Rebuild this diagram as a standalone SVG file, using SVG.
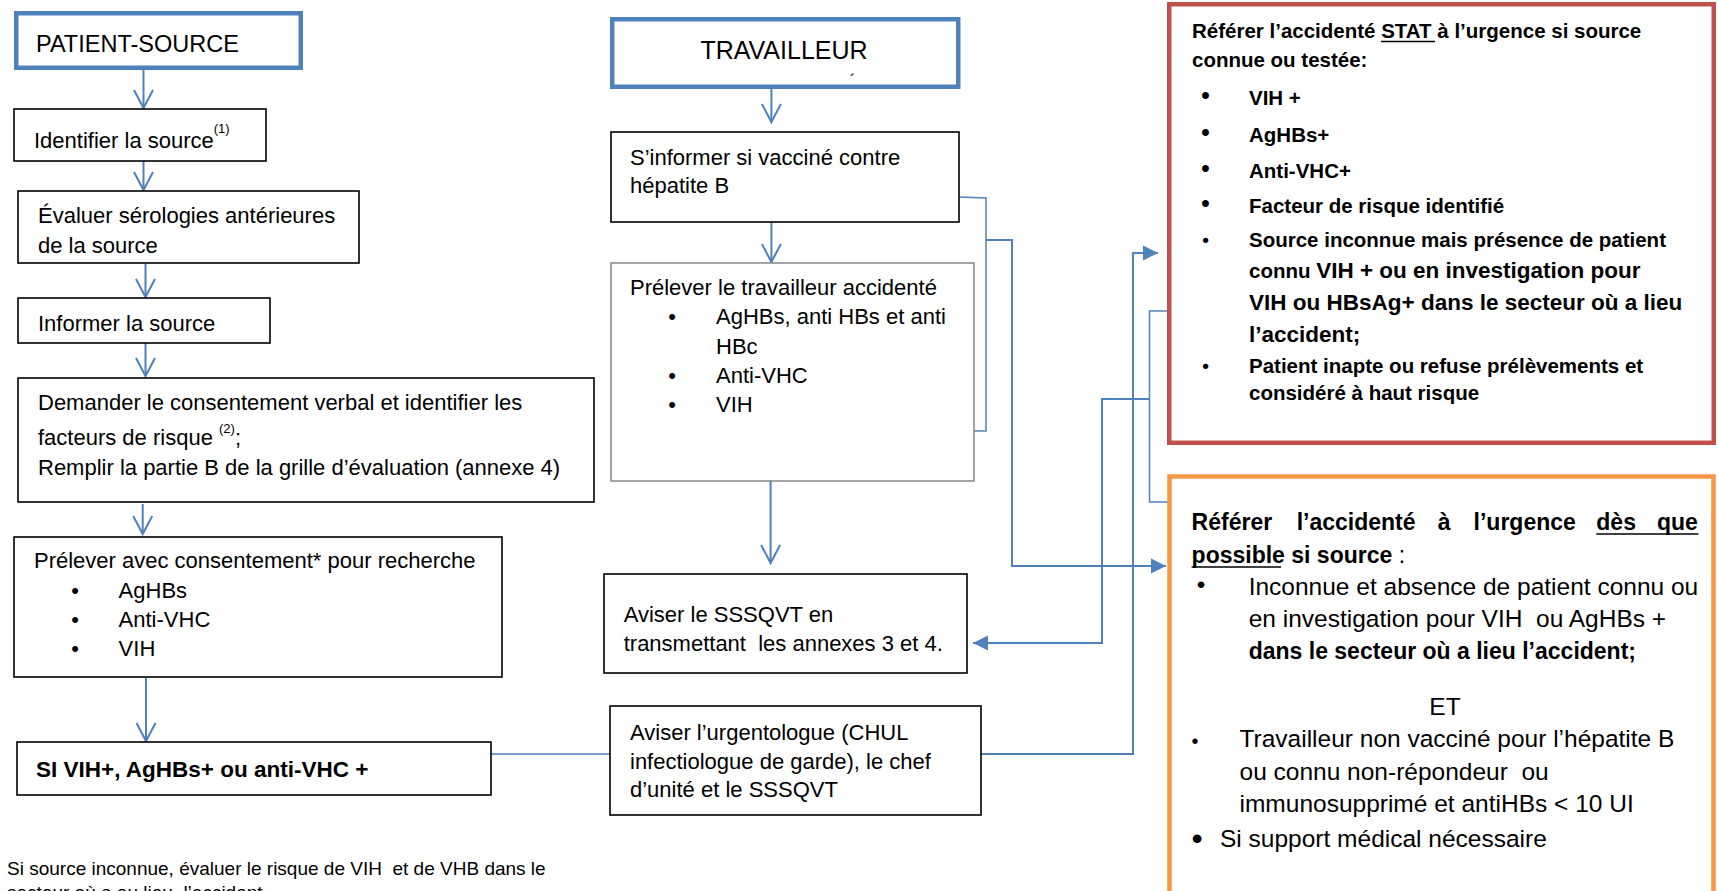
<svg xmlns="http://www.w3.org/2000/svg" width="1718" height="891" viewBox="0 0 1718 891">
<style>
text{font-family:"Liberation Sans",Arial,sans-serif;font-size:22px;fill:#000}
.b{font-weight:bold}
.box{fill:#fff;stroke:#000;stroke-width:1.6}
.gbox{fill:#fff;stroke:#7f7f7f;stroke-width:1.4}
.hdr{fill:#fff;stroke:#4F81BD;stroke-width:4.5}
.c{fill:none;stroke:#4F81BD;stroke-width:2}
.thin{fill:none;stroke:#4F81BD;stroke-width:1.5}
.ul{stroke:#000;stroke-width:1.5}
.sup{font-size:13px}
.r{font-weight:bold;font-size:20.5px}
.rl{font-weight:bold;font-size:22.5px}
.o{font-size:24.5px}
.ob{font-weight:bold;font-size:23px}
</style>
<defs>
<marker id="av" markerUnits="userSpaceOnUse" markerWidth="24" markerHeight="24" viewBox="-20 -12 24 24" refX="0" refY="0" orient="auto" overflow="visible"><path d="M-18,-9.5 L0,0 L-18,9.5" fill="none" stroke="#4F81BD" stroke-width="2"/></marker>
<marker id="af" markerUnits="userSpaceOnUse" markerWidth="20" markerHeight="20" viewBox="-16 -10 20 20" refX="0" refY="0" orient="auto" overflow="visible"><path d="M-15,-7.5 L0,0 L-15,7.5 z" fill="#4F81BD"/></marker>
</defs>
<rect width="1718" height="891" fill="#fff"/>

<g id="connectors">
<path class="c" d="M143.5,70 V108" marker-end="url(#av)"/>
<path class="c" d="M143.5,154 V190" marker-end="url(#av)"/>
<path class="c" d="M145.5,264 V297" marker-end="url(#av)"/>
<path class="c" d="M145.5,339 V376" marker-end="url(#av)"/>
<path class="c" d="M142.7,504 V534" marker-end="url(#av)"/>
<path class="c" d="M146,678 V741" marker-end="url(#av)"/>
<path class="c" d="M771.4,89 V122" marker-end="url(#av)"/>
<path class="c" d="M771.4,222 V262" marker-end="url(#av)"/>
<path class="c" d="M770.6,481 V563" marker-end="url(#av)"/>
<path class="thin" d="M491,754 H610"/>
<path class="thin" d="M959,197 L986,198 V431 H974"/>
<path class="c" d="M986,240 H1012 V566 H1166" marker-end="url(#af)"/>
<path class="c" d="M981,754 H1133 V253 H1158" marker-end="url(#af)"/>
<path class="thin" d="M1168,311 H1149.5 V502 H1168"/>
<path class="c" d="M1150,399 H1102 V643 H973" marker-end="url(#af)"/>
</g>

<g id="patient-source">
<rect class="hdr" x="16.25" y="13.25" width="284.5" height="54.5"/>
<text x="36" y="52" style="font-size:23.5px">PATIENT-SOURCE</text>
</g>

<g id="identifier">
<rect class="box" x="14" y="109" width="252" height="52"/>
<text x="34" y="148">Identifier la source<tspan class="sup" dy="-15">(1)</tspan></text>
</g>

<g id="evaluer">
<rect class="box" x="18" y="191" width="341" height="72"/>
<text x="38" y="223">Évaluer sérologies antérieures</text>
<text x="38" y="253">de la source</text>
</g>

<g id="informer">
<rect class="box" x="18" y="298" width="252" height="45"/>
<text x="38" y="331">Informer la source</text>
</g>

<g id="demander">
<rect class="box" x="18" y="378" width="576" height="124"/>
<text x="38" y="410">Demander le consentement verbal et identifier les</text>
<text x="38" y="445">facteurs de risque <tspan class="sup" dy="-12">(2)</tspan><tspan dy="12">;</tspan></text>
<text x="38" y="475">Remplir la partie B de la grille d’évaluation (annexe 4)</text>
</g>

<g id="prelever-source">
<rect class="box" x="14" y="537" width="488" height="140"/>
<text x="34" y="568">Prélever avec consentement* pour recherche</text>
<text x="75" y="598" text-anchor="middle">•</text><text x="118.6" y="598">AgHBs</text>
<text x="75" y="627" text-anchor="middle">•</text><text x="118.6" y="627">Anti-VHC</text>
<text x="75" y="656" text-anchor="middle">•</text><text x="118.6" y="656">VIH</text>
</g>

<g id="si-positif">
<rect class="box" x="17" y="742" width="474" height="53"/>
<text class="b" x="36" y="777" style="font-size:22.5px">SI VIH+, AgHBs+ ou anti-VHC +</text>
</g>

<g id="footnote">
<text x="7" y="875" style="font-size:19px">Si source inconnue, évaluer le risque de VIH &#160;et de VHB dans le</text>
<text x="7" y="899" style="font-size:19px">secteur où a eu lieu &#160;l’accident</text>
</g>

<g id="travailleur">
<rect class="hdr" x="612.25" y="19.25" width="346" height="67.5"/>
<text x="784" y="59" text-anchor="middle" style="font-size:25px">TRAVAILLEUR</text>
<text x="850" y="86" style="font-size:16px">´</text>
</g>

<g id="sinformer">
<rect class="box" x="611" y="132" width="348" height="90"/>
<text x="630" y="165">S’informer si vacciné contre</text>
<text x="630" y="193">hépatite B</text>
</g>

<g id="prelever-travailleur">
<rect class="gbox" x="611" y="263" width="363" height="218"/>
<text x="630" y="295">Prélever le travailleur accidenté</text>
<text x="672" y="324" text-anchor="middle">•</text><text x="716" y="324">AgHBs, anti HBs et anti</text>
<text x="716" y="354">HBc</text>
<text x="672" y="383" text-anchor="middle">•</text><text x="716" y="383">Anti-VHC</text>
<text x="672" y="412" text-anchor="middle">•</text><text x="716" y="412">VIH</text>
</g>

<g id="aviser-sssqvt">
<rect class="box" x="604" y="574" width="363" height="99"/>
<text x="623.7" y="622">Aviser le SSSQVT en</text>
<text x="623.7" y="651">transmettant &#160;les annexes 3 et 4.</text>
</g>

<g id="aviser-urgentologue">
<rect class="box" x="610" y="706" width="371" height="109"/>
<text x="630" y="740">Aviser l’urgentologue (CHUL</text>
<text x="630" y="769">infectiologue de garde), le chef</text>
<text x="630" y="797">d’unité et le SSSQVT</text>
</g>

<g id="stat">
<rect x="1169.25" y="4.25" width="544.5" height="438.5" fill="#fff" stroke="#C0504D" stroke-width="4.5"/>
<text class="r" x="1192" y="38">Référer l’accidenté STAT à l’urgence si source</text>
<line class="ul" x1="1381" y1="41.5" x2="1435" y2="41.5"/>
<text class="r" x="1192" y="67">connue ou testée:</text>
<text class="r" x="1205.5" y="103" text-anchor="middle" style="font-size:24px">•</text><text class="r" x="1249" y="105">VIH +</text>
<text class="r" x="1205.5" y="140" text-anchor="middle" style="font-size:24px">•</text><text class="r" x="1249" y="142">AgHBs+</text>
<text class="r" x="1205.5" y="176" text-anchor="middle" style="font-size:24px">•</text><text class="r" x="1249" y="178">Anti-VHC+</text>
<text class="r" x="1205.5" y="211" text-anchor="middle" style="font-size:24px">•</text><text class="r" x="1249" y="213">Facteur de risque identifié</text>
<text class="r" x="1205.5" y="246" text-anchor="middle" style="font-size:19px">•</text><text class="r" x="1249" y="247">Source inconnue mais présence de patient</text>
<text class="r" x="1249" y="278">connu <tspan class="rl">VIH + ou en investigation pour</tspan></text>
<text class="rl" x="1249" y="310">VIH ou HBsAg+ dans le secteur où a lieu</text>
<text class="rl" x="1249" y="342">l’accident;</text>
<text class="r" x="1205.5" y="372" text-anchor="middle" style="font-size:19px">•</text><text class="r" x="1249" y="373">Patient inapte ou refuse prélèvements et</text>
<text class="r" x="1249" y="400">considéré à haut risque</text>
</g>

<g id="des-que-possible">
<rect x="1169.5" y="476.5" width="544" height="440" fill="#fff" stroke="#F79646" stroke-width="4.5"/>
<text class="ob" x="1191.6" y="530">Référer</text>
<text class="ob" x="1296.7" y="530">l’accidenté</text>
<text class="ob" x="1437.8" y="530">à</text>
<text class="ob" x="1473.6" y="530">l’urgence</text>
<text class="ob" x="1596.3" y="530">dès</text>
<text class="ob" x="1657" y="530">que</text>
<line class="ul" x1="1596.3" y1="534" x2="1698.4" y2="534"/>
<text class="ob" x="1191.6" y="563">possible si source<tspan style="font-weight:normal"> :</tspan></text>
<line class="ul" x1="1191.6" y1="567" x2="1281" y2="567"/>
<text class="o" x="1201" y="593" text-anchor="middle">•</text>
<text class="o" x="1248.7" y="595">Inconnue et absence de patient connu ou</text>
<text class="o" x="1248.7" y="627">en investigation pour VIH &#160;ou AgHBs +</text>
<text class="ob" x="1248.7" y="659">dans le secteur où a lieu l’accident;</text>
<text class="o" x="1445" y="715" text-anchor="middle">ET</text>
<text class="o" x="1195" y="748" text-anchor="middle" style="font-size:20px">•</text>
<text class="o" x="1239.5" y="747">Travailleur non vacciné pour l’hépatite B</text>
<text class="o" x="1239.5" y="780">ou connu non-répondeur &#160;ou</text>
<text class="o" x="1239.5" y="812">immunosupprimé et antiHBs &lt; 10 UI</text>
<text class="o" x="1197" y="849" text-anchor="middle" style="font-size:32px">•</text>
<text class="o" x="1220" y="847">Si support médical nécessaire</text>
</g>
</svg>
